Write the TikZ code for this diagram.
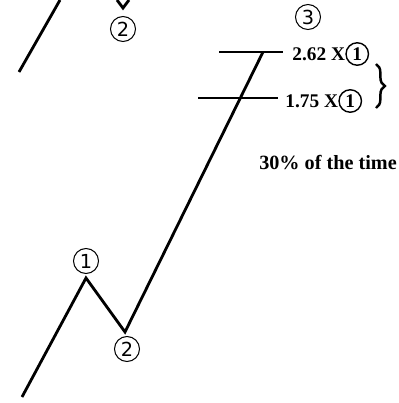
\documentclass[tikz,border=0pt]{standalone}
\usepackage{fontspec}
\setmainfont{Liberation Serif}
\setsansfont{DejaVu Sans}
\usetikzlibrary{positioning,decorations.pathreplacing}

\begin{document}
\begin{tikzpicture}[x=0.02cm, y=-0.02cm,
  wave/.style={line width=1.6pt, line join=miter},
  lvl/.style={line width=0.8pt},
  cnum/.style={draw, circle, line width=0.6pt, minimum size=5mm, inner sep=0pt, font=\sffamily\fontsize{11}{11}\selectfont},
  cone/.style={draw, circle, line width=0.8pt, minimum size=4.5mm, inner sep=0pt, font=\bfseries\fontsize{11}{11}\selectfont},
  ratio/.style={anchor=west, inner sep=0pt, font=\bfseries\fontsize{11}{11}\selectfont}
]
\useasboundingbox (0,0) rectangle (399,403);
% earlier leg, cut off at the top
\coordinate (a0) at (19,72);
\coordinate (a1) at (60,0);
\draw[wave] (a0) -- (a1);
\coordinate (v0) at (117,0);
\coordinate (v1) at (123,8);
\coordinate (v2) at (129,0);
\draw[wave] (v0) -- (v1) -- (v2);
\node[cnum] (top2) at (123,29) {2};
% waves 1-2-3
\coordinate (w0) at (22,397);
\coordinate (w1) at (86,278);
\coordinate (w2) at (125,332);
\coordinate (w3) at (263,52);
\draw[wave] (w0) -- (w1) -- (w2) -- (w3);
\node[cnum] (n1) at (86,261) {1};
\node[cnum] (n2) at (127,349) {2};
\node[cnum] (n3) at (308,17) {3};
% target levels for wave 3
\coordinate (t1a) at (219,52);
\coordinate (t1b) at (283,52);
\draw[lvl] (t1a) -- (t1b);
\node[ratio] (r1) at (292,54) {2.62 X};
\node[cone, right=0pt of r1] (c1) {1};
\coordinate (t2a) at (198,98);
\coordinate (t2b) at (278,98);
\draw[lvl] (t2a) -- (t2b);
\node[ratio] (r2) at (285,101) {1.75 X};
\node[cone, right=0pt of r2] (c2) {1};
\coordinate (b0) at (376,64);
\coordinate (b1) at (376,108);
\draw[decorate, decoration={brace, amplitude=5pt}, line width=1.4pt] (b0) -- (b1);
\node[font=\bfseries\fontsize{11.5}{12}\selectfont] (pct) at (328,163) {30\% of the time};
\end{tikzpicture}
\end{document}
